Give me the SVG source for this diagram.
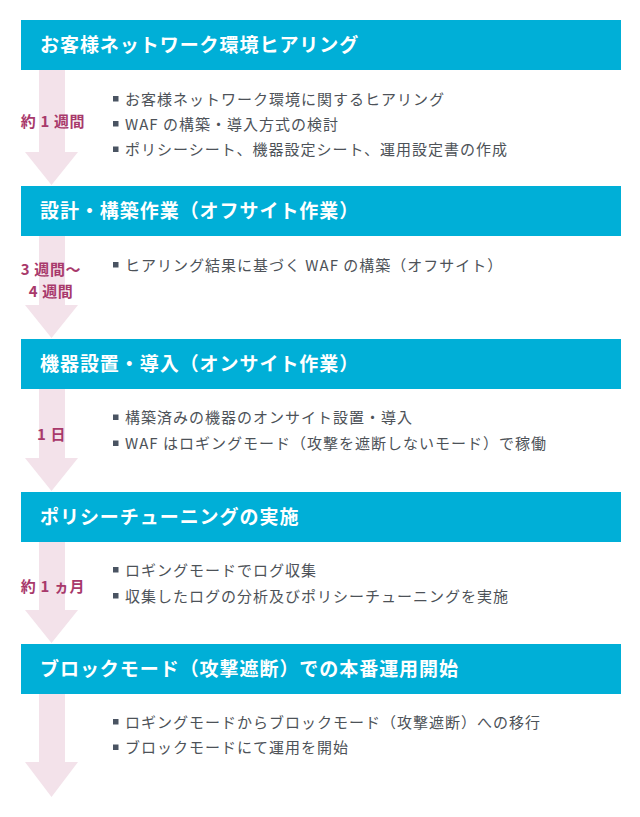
<svg xmlns="http://www.w3.org/2000/svg" width="640" height="817" viewBox="0 0 640 817">
<defs>
<style>
.hd{fill:#00afd7}
.ht{font-family:"Noto Sans CJK JP","Noto Sans",sans-serif;font-size:19px;font-weight:bold;fill:#ffffff;letter-spacing:0.95px}
.bt{font-family:"Noto Sans CJK JP","Noto Sans",sans-serif;font-size:15px;fill:#4d5258;letter-spacing:1px}
.lb{font-family:"Noto Sans CJK JP","Noto Sans",sans-serif;font-size:15px;font-weight:bold;fill:#a8396b;text-anchor:middle;letter-spacing:0.6px}
.ar{fill:#f3e2ea}
.bl{fill:#4a5462}
</style>
</defs>
<rect width="640" height="817" fill="#ffffff"/>
<g id="connectors">
<polygon class="ar" points="39,69 65,69 65,152 78,152 51.5,185 25,152 39,152"/>
<polygon class="ar" points="39,236 65,236 65,305 78,305 51.5,338 25,305 39,305"/>
<polygon class="ar" points="39,389 65,389 65,458 78,458 51.5,491 25,458 39,458"/>
<polygon class="ar" points="39,542 65,542 65,610 78,610 51.5,643 25,610 39,610"/>
<polygon class="ar" points="39,694 65,694 65,762 78,762 51.5,797 25,762 39,762"/>
</g>
<g id="step1">
<rect class="hd" x="21" y="20" width="600" height="50"/>
<text class="ht" x="40" y="52">お客様ネットワーク環境ヒアリング</text>
<text class="lb" x="53" y="127">約 1 週間</text>
<rect class="bl" x="113" y="96" width="5.5" height="5.5"/>
<text class="bt" x="125" y="104.5">お客様ネットワーク環境に関するヒアリング</text>
<rect class="bl" x="113" y="121" width="5.5" height="5.5"/>
<text class="bt" x="125" y="129.5">WAF の構築・導入方式の検討</text>
<rect class="bl" x="113" y="146.5" width="5.5" height="5.5"/>
<text class="bt" x="125" y="155">ポリシーシート、機器設定シート、運用設定書の作成</text>
</g>
<g id="step2">
<rect class="hd" x="21" y="186" width="600" height="50"/>
<text class="ht" x="40" y="218">設計・構築作業（オフサイト作業）</text>
<text class="lb" x="51" y="274.5">3 週間～</text>
<text class="lb" x="51" y="297">4 週間</text>
<rect class="bl" x="113" y="262" width="5.5" height="5.5"/>
<text class="bt" x="125" y="270.5">ヒアリング結果に基づく WAF の構築（オフサイト）</text>
</g>
<g id="step3">
<rect class="hd" x="21" y="339" width="600" height="50"/>
<text class="ht" x="40" y="371">機器設置・導入（オンサイト作業）</text>
<text class="lb" x="51.5" y="439.5">1 日</text>
<rect class="bl" x="113" y="414.5" width="5.5" height="5.5"/>
<text class="bt" x="125" y="423">構築済みの機器のオンサイト設置・導入</text>
<rect class="bl" x="113" y="440.5" width="5.5" height="5.5"/>
<text class="bt" x="125" y="449">WAF はロギングモード（攻撃を遮断しないモード）で稼働</text>
</g>
<g id="step4">
<rect class="hd" x="21" y="492" width="600" height="50"/>
<text class="ht" x="40" y="524">ポリシーチューニングの実施</text>
<text class="lb" x="53" y="592">約 1 ヵ月</text>
<rect class="bl" x="113" y="567" width="5.5" height="5.5"/>
<text class="bt" x="125" y="575.5">ロギングモードでログ収集</text>
<rect class="bl" x="113" y="593" width="5.5" height="5.5"/>
<text class="bt" x="125" y="601.5">収集したログの分析及びポリシーチューニングを実施</text>
</g>
<g id="step5">
<rect class="hd" x="21" y="644" width="600" height="50"/>
<text class="ht" x="40" y="676">ブロックモード（攻撃遮断）での本番運用開始</text>
<rect class="bl" x="113" y="719" width="5.5" height="5.5"/>
<text class="bt" x="125" y="727.5">ロギングモードからブロックモード（攻撃遮断）への移行</text>
<rect class="bl" x="113" y="744.5" width="5.5" height="5.5"/>
<text class="bt" x="125" y="753">ブロックモードにて運用を開始</text>
</g>
</svg>
